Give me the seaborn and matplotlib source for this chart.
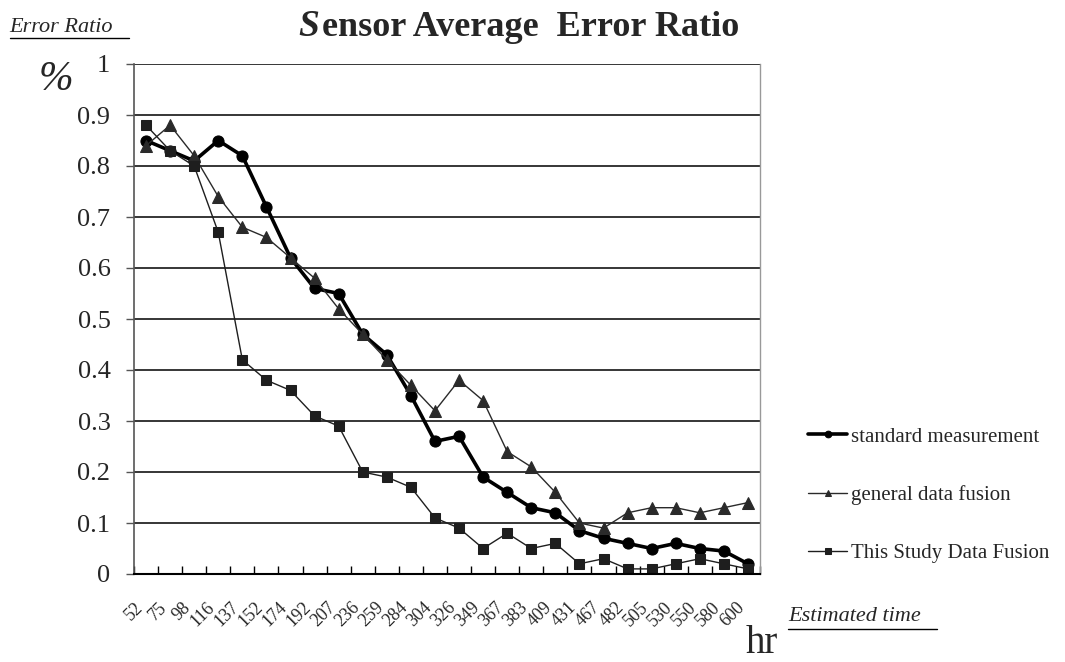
import numpy as np
import pandas as pd
import matplotlib.pyplot as plt
import seaborn as sns
from matplotlib.lines import Line2D

# hours on the x axis (categorical)
hours = ['52', '75', '98', '116', '137', '152', '174', '192', '207', '236', '259', '284', '304',
         '326', '349', '367', '383', '409', '431', '467', '482', '505', '530', '550', '580', '600']

standard = [0.85, 0.83, 0.81, 0.85, 0.82, 0.72, 0.62, 0.56, 0.55, 0.47, 0.43, 0.35, 0.26,
            0.27, 0.19, 0.16, 0.13, 0.12, 0.085, 0.07, 0.06, 0.05, 0.06, 0.05, 0.045, 0.02]
general = [0.84, 0.88, 0.82, 0.74, 0.68, 0.66, 0.62, 0.58, 0.52, 0.47, 0.42, 0.37, 0.32,
           0.38, 0.34, 0.24, 0.21, 0.16, 0.10, 0.09, 0.12, 0.13, 0.13, 0.12, 0.13, 0.14]
this_study = [0.88, 0.83, 0.80, 0.67, 0.42, 0.38, 0.36, 0.31, 0.29, 0.20, 0.19, 0.17, 0.11,
              0.09, 0.05, 0.08, 0.05, 0.06, 0.02, 0.03, 0.01, 0.01, 0.02, 0.03, 0.02, 0.01]

series_names = ['standard measurement', 'general data fusion', 'This Study Data Fusion']
y_ticks = [0, 0.1, 0.2, 0.3, 0.4, 0.5, 0.6, 0.7, 0.8, 0.9, 1]
y_tick_labels = ['0', '0.1', '0.2', '0.3', '0.4', '0.5', '0.6', '0.7', '0.8', '0.9', '1']

df = pd.DataFrame({'pos': np.arange(len(hours)),
                   series_names[0]: standard,
                   series_names[1]: general,
                   series_names[2]: this_study})

sns.set_style('white')
plt.rcParams['font.family'] = ['Liberation Serif', 'DejaVu Serif']

fig = plt.figure(figsize=(10.65, 6.62), dpi=100)
ax = fig.add_axes([134 / 1065, 88 / 662, 626 / 1065, 510 / 662])

sns.lineplot(data=df, x='pos', y=series_names[0], ax=ax, color='black', linewidth=2.6,
             marker='o', markersize=8, markeredgecolor='black', label=series_names[0])
sns.lineplot(data=df, x='pos', y=series_names[1], ax=ax, color='#2a2a2a', linewidth=1.0,
             marker='^', markersize=8, markeredgecolor='#2a2a2a', label=series_names[1])
sns.lineplot(data=df, x='pos', y=series_names[2], ax=ax, color='#1e1e1e', linewidth=1.0,
             marker='s', markersize=6.5, markeredgecolor='#1e1e1e', label=series_names[2])

ax.set_xlim(-0.5, len(hours) - 0.5)
ax.set_ylim(0, 1)
ax.set_xlabel('')
ax.set_ylabel('')

ax.set_yticks(y_ticks)
ax.set_yticklabels(y_tick_labels, fontsize=19)
ax.yaxis.grid(True, color='black', linewidth=1.1)
ax.tick_params(axis='y', direction='out', length=6, width=1, color='#555555', pad=11, left=True)

ax.set_xticks(np.arange(len(hours)))
ax.set_xticklabels(hours, rotation=45, fontsize=13, ha='right')
ax.set_xticks(np.arange(-0.5, len(hours), 1), minor=True)
ax.tick_params(axis='x', which='major', length=0, pad=18)
ax.tick_params(axis='x', which='minor', direction='in', length=6, width=1, color='black', bottom=True)

ax.spines['top'].set_visible(False)
ax.spines['left'].set_color('#555555')
ax.spines['left'].set_linewidth(1.2)
ax.spines['bottom'].set_color('black')
ax.spines['bottom'].set_linewidth(1.5)
ax.spines['right'].set_color('#999999')
ax.spines['right'].set_linewidth(1.0)

ax.legend(loc='center left', bbox_to_anchor=(0.741, 0.252), bbox_transform=fig.transFigure,
          frameon=False, fontsize=15, labelspacing=1.85, handlelength=1.9, handletextpad=0.15,
          markerscale=0.6)

# title with the italic leading S
fig.text(0.280, 0.960, 'S', fontsize=27, fontweight='bold', fontstyle='italic', va='center', ha='left')
fig.text(0.302, 0.958, 'ensor Average  Error Ratio', fontsize=26, fontweight='bold',
         va='center', ha='left')

# axis annotations
fig.text(0.009, 0.958, 'Error Ratio', fontsize=16, fontstyle='italic', va='center', ha='left')
fig.add_artist(Line2D([0.009, 0.121], [0.942, 0.942], color='black', linewidth=1))
fig.text(0.036, 0.880, '%', fontsize=30, fontstyle='italic', va='center', ha='left')

fig.text(0.740, 0.068, 'Estimated time', fontsize=16, fontstyle='italic', va='center', ha='left')
fig.add_artist(Line2D([0.740, 0.880], [0.050, 0.050], color='black', linewidth=1))
fig.text(0.700, 0.028, 'hr', fontsize=28, va='center', ha='left')

fig.savefig('out.png', dpi=100)
